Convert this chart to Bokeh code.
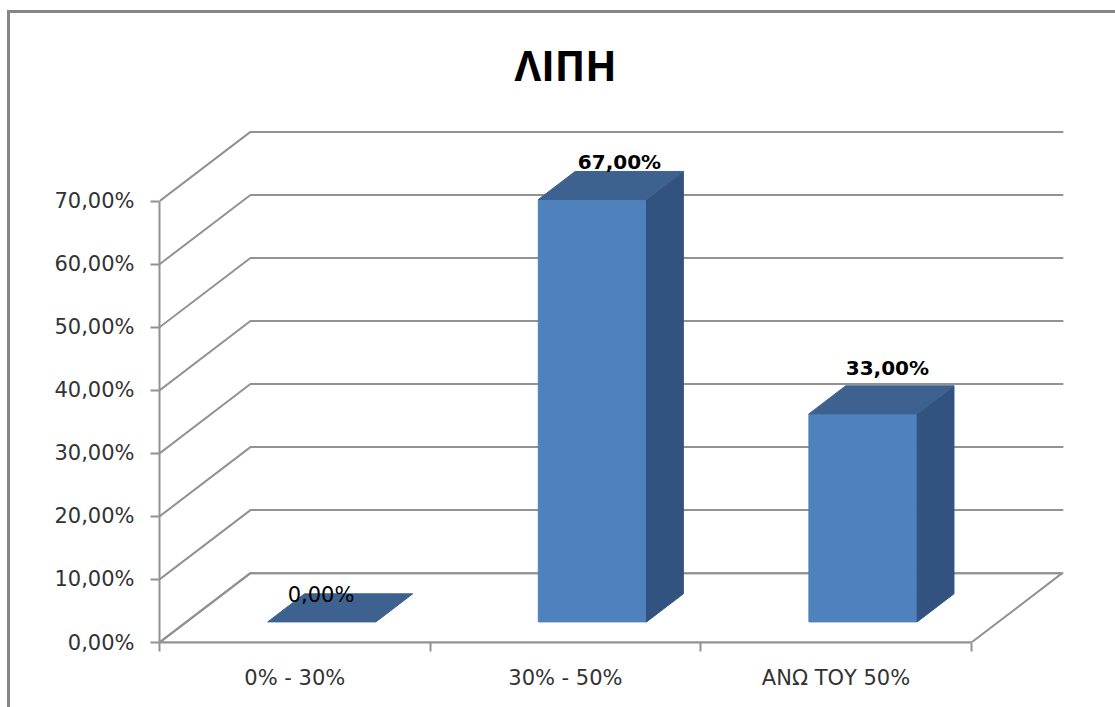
from bokeh.core.properties import value
from bokeh.embed import file_html
from bokeh.models import ColumnDataSource, FixedTicker, InlineStyleSheet, Range1d
from bokeh.plotting import figure
from bokeh.resources import INLINE

# Fat content shares per class
categories = ["0% - 30%", "30% - 50%", "ΑΝΩ ΤΟΥ 50%"]
shares = [0.0, 67.0, 33.0]
y_ticks = [0, 10, 20, 30, 40, 50, 60, 70]
title_text = "ΛΙΠΗ"

FONT = "DejaVu Sans"
GRID = "#929292"
FRONT = "#4f81bd"
TOP = "#3e6290"
SIDE = "#325380"

# Oblique projection of the depth axis, in data units
DEPTH_X = 0.336
DEPTH_Y = 11.0
BAR_WIDTH = 0.4
BAR_NEAR = 0.297  # depth fraction of the bar's front face
BAR_FAR = 0.702   # depth fraction of the bar's back face
X_END = 3.34

# Label placement relative to each bar's top edge
label_shift_x = [-0.003, 0.1, 0.09]
label_lift = [4.3, 5.9, 7.3]
label_styles = ["normal", "bold", "bold"]


def project(x, y, depth):
    return x + depth * DEPTH_X, y + depth * DEPTH_Y


p = figure(
    width=1115, height=707, output_backend="svg", toolbar_location=None,
    x_range=Range1d(0, X_END + 0.008), y_range=Range1d(0, 81.22),
    min_border_left=159, min_border_right=50, min_border_top=130, min_border_bottom=65,
    background_fill_color="white", border_fill_color="white", outline_line_color=None,
)
p.grid.visible = False

# Chart area border, open towards the window's right and bottom edges
p.stylesheets = [InlineStyleSheet(css="""
:host::after {
  content: "";
  position: absolute;
  left: 7px;
  top: 10px;
  width: 1108px;
  height: 697px;
  box-sizing: border-box;
  border-left: 3px solid #868686;
  border-top: 3px solid #868686;
  pointer-events: none;
}
""")]

# Title
p.title.text = title_text
p.title.text_font = "Open Sans"
p.title.text_font_size = "41px"
p.title.text_font_style = "bold"
p.title.text_color = "#000000"
p.title.align = "left"
p.title.vertical_align = "top"
p.title.offset = 355
p.title.standoff = 71

# Back wall and side wall gridlines, one polyline per tick
for v in y_ticks:
    bx, by = project(0, v, 1)
    p.line([0, bx, X_END], [v, by, by], line_color=GRID, line_width=2)

# Floor outline
bx, by = project(0, 0, 1)
rx, ry = project(len(categories), 0, 1)
p.line([0, len(categories), rx, bx, 0], [0, 0, ry, by, 0], line_color=GRID, line_width=2)

# Bars as three projected faces
for i, v in enumerate(shares):
    left = i + 0.5 - BAR_WIDTH / 2 + BAR_NEAR * DEPTH_X
    right = left + BAR_WIDTH
    base = BAR_NEAR * DEPTH_Y
    top = base + v
    d = BAR_FAR - BAR_NEAR
    dx, dy = d * DEPTH_X, d * DEPTH_Y
    if v > 0:
        p.patch([left, right, right, left], [base, base, top, top],
                fill_color=FRONT, line_color=FRONT, line_width=1)
        p.patch([right, right + dx, right + dx, right],
                [base, base + dy, top + dy, top],
                fill_color=SIDE, line_color=SIDE, line_width=1)
    p.patch([left, right, right + dx, left + dx], [top, top, top + dy, top + dy],
            fill_color=TOP, line_color=TOP, line_width=1)

# Value labels above each bar
label_x = [i + 0.5 + BAR_NEAR * DEPTH_X + s for i, s in enumerate(label_shift_x)]
label_y = [BAR_NEAR * DEPTH_Y + v + lift for v, lift in zip(shares, label_lift)]
label_text = [f"{v:.2f}%".replace(".", ",") for v in shares]
label_sizes = ["21px" if s == "normal" else "20px" for s in label_styles]

p.text("x", "y", text="t", text_font_style="s", text_font_size="z", source=ColumnDataSource(
           dict(x=label_x, y=label_y, t=label_text, s=label_styles, z=label_sizes)),
       text_font=value(FONT), text_color="#000000",
       text_align="center", text_baseline="middle")

# Value axis
ya = p.yaxis[0]
ya.ticker = FixedTicker(ticks=y_ticks)
ya.major_label_overrides = {v: f"{v:.2f}%".replace(".", ",") for v in y_ticks}
ya.bounds = (0, 70)
ya.axis_line_color = GRID
ya.axis_line_width = 2
ya.major_tick_line_color = GRID
ya.major_tick_line_width = 2
ya.major_tick_in = 0
ya.major_tick_out = 9
ya.minor_tick_line_color = None
ya.major_label_standoff = 16
ya.major_label_text_font = FONT
ya.major_label_text_font_size = "21px"
ya.major_label_text_color = "#333333"

# Category axis: ticks on class boundaries, labels at class centres
xa = p.xaxis[0]
xa.ticker = FixedTicker(ticks=[i + 0.5 for i in range(len(categories))],
                        minor_ticks=list(range(len(categories) + 1)))
xa.major_label_overrides = {i + 0.5: c for i, c in enumerate(categories)}
xa.bounds = (0, len(categories))
xa.axis_line_color = GRID
xa.axis_line_width = 2
xa.major_tick_line_color = None
xa.minor_tick_line_color = GRID
xa.minor_tick_line_width = 2
xa.minor_tick_in = 0
xa.minor_tick_out = 9
xa.major_tick_in = 0
xa.major_tick_out = 0
xa.major_label_standoff = 14
xa.major_label_text_font = FONT
xa.major_label_text_font_size = "21px"
xa.major_label_text_color = "#333333"

open("out.html", "w").write(file_html(p, INLINE))
